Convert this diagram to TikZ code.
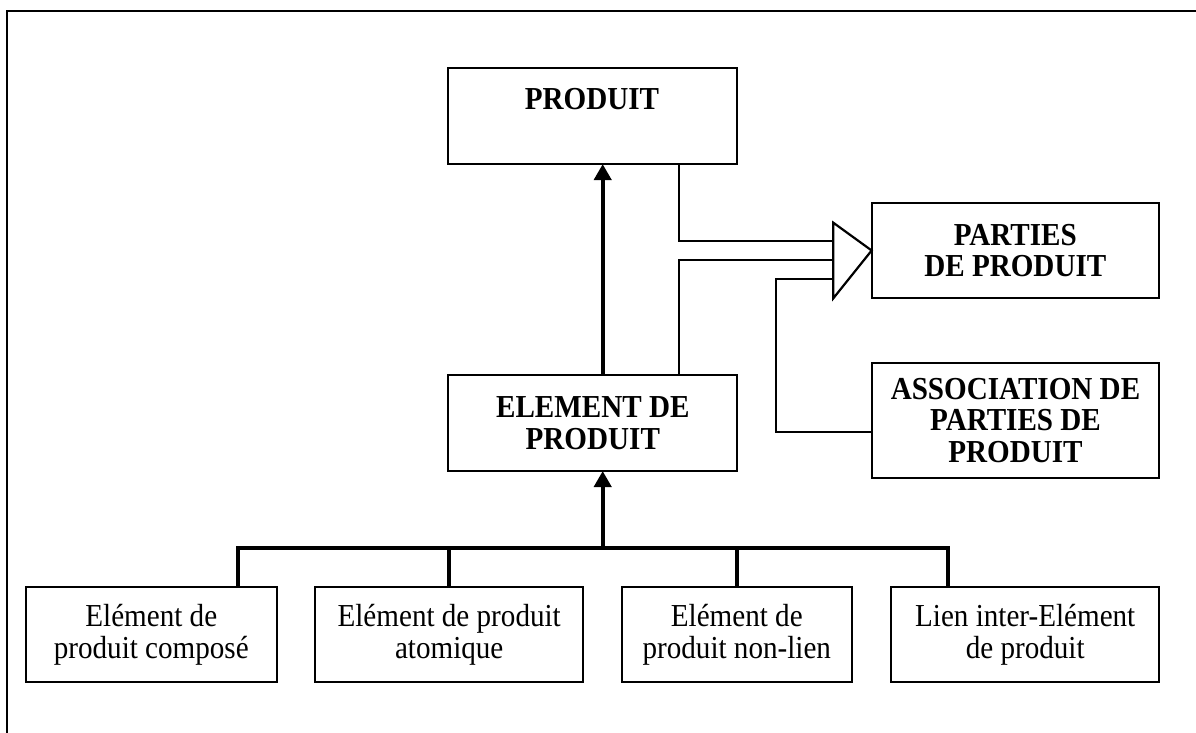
\documentclass[tikz,border=0pt]{standalone}
\usepackage{fontspec}
\setmainfont[FakeStretch=0.91]{Liberation Serif}
\usetikzlibrary{arrows.meta}
\begin{document}
\begin{tikzpicture}[x=1pt,y=-1pt,
  box/.style={draw, line width=2pt, inner sep=0pt, outer sep=0pt, align=center,
    font=\fontsize{32}{31.5}\selectfont},
  boldbox/.style={box, font=\fontsize{32}{31.5}\selectfont\bfseries},
  wire/.style={line width=2.2pt},
  heavy/.style={line width=4pt},
  uparrow/.style={heavy, -{Triangle[length=16pt,width=17pt]}},
]
\useasboundingbox (0,0) rectangle (1196,733);

% page frame: left and top rules only
\coordinate (frameB) at (7.3,735);
\coordinate (frameC) at (7.3,10.7);
\coordinate (frameR) at (1198,10.7);
\draw[line width=2.3pt] (frameB) -- (frameC) -- (frameR);

% main boxes
\node[box, minimum width=288.7, minimum height=95.7] (prod) at (592.7,116.2) {};
\node[font=\fontsize{32}{31.5}\selectfont\bfseries, anchor=base, inner sep=0pt] (prodtxt) at (592,109.3) {PRODUIT};
\node[boldbox, minimum width=289, minimum height=96] (elem) at (592.8,423) {ELEMENT DE\\PRODUIT};
\node[boldbox, minimum width=287.3, minimum height=95.6] (parts) at (1015.3,250.5) {PARTIES\\DE PRODUIT};
\node[boldbox, minimum width=287.6, minimum height=115.6] (assoc) at (1015.5,420.5) {ASSOCIATION DE\\PARTIES DE\\PRODUIT};

% bottom row
\node[box, minimum width=250.7, minimum height=95.5] (b1) at (151.3,634.7) {Elément de\\produit composé};
\node[box, minimum width=268.5, minimum height=95.5] (b2) at (449.2,634.7) {Elément de produit\\atomique};
\node[box, minimum width=230.3, minimum height=95.5] (b3) at (736.8,634.7) {Elément de\\produit non-lien};
\node[box, minimum width=268.5, minimum height=95.5] (b4) at (1025.2,634.7) {Lien inter-Elément\\de produit};

% reference coordinates for connectors
\coordinate (ax) at (602.7,0);
\coordinate (c1) at (679.3,0);
\coordinate (c2) at (775.7,0);
\coordinate (c3) at (0,432.3);
\coordinate (busL) at (237.5,548);
\coordinate (busR) at (948,548);
\coordinate (in1) at (833.3,241);
\coordinate (in2) at (833.3,260.3);
\coordinate (in3) at (833.3,279.3);

% generalisation arrows
\draw[uparrow] (elem.north -| ax) -- (prod.south -| ax);
\draw[heavy] (b1.north -| busL) -- (busL) -- (busR) -- (b4.north -| busR);
\draw[heavy] (b2.north) -- (b2.north |- busL);
\draw[heavy] (b3.north) -- (b3.north |- busL);
\draw[uparrow] (busL -| ax) -- (elem.south -| ax);

% aggregation into PARTIES DE PRODUIT
\draw[wire, fill=white] (parts.west) -- (in2 |- 0,222.7) -- (in2 |- 0,298.3) -- cycle;
\draw[wire] (prod.south -| c1) |- (in1);
\draw[wire] (elem.north -| c1) |- (in2);
\draw[wire] (assoc.west |- c3) -| (in3 -| c2) -- (in3);
\end{tikzpicture}
\end{document}
